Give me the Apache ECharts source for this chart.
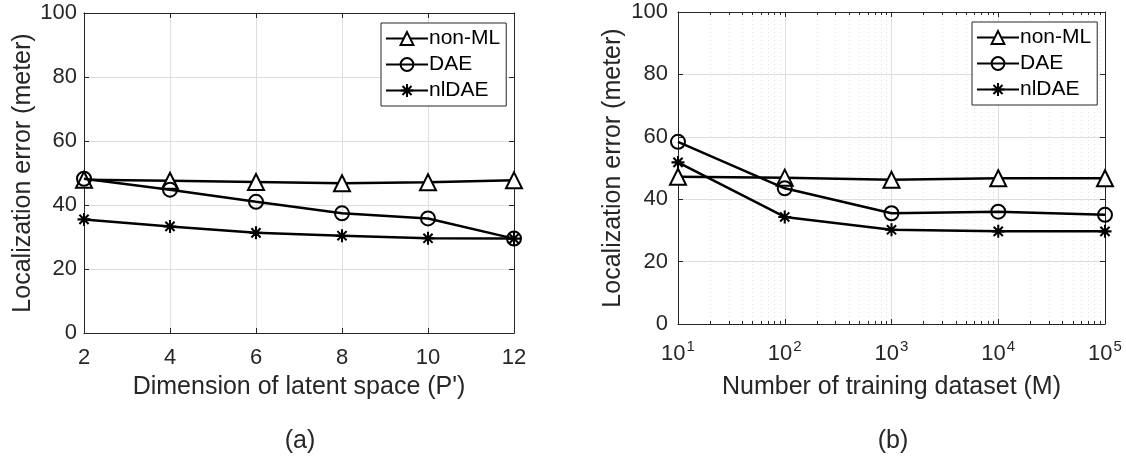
<!DOCTYPE html>
<html>
<head>
<meta charset="utf-8">
<script src="https://cdn.jsdelivr.net/npm/echarts@6/dist/echarts.min.js"></script>
<style>
html,body{margin:0;padding:0;background:#fff;}
#chart{width:1126px;height:466px;}
</style>
</head>
<body>
<div id="chart"></div>
<script>
// ---- data ----
const seriesNames = ['non-ML', 'DAE', 'nlDAE'];
// (a) dimension of latent space
const latentDim = [2, 4, 6, 8, 10, 12];
const aNonML = [47.9, 47.6, 47.2, 46.8, 47.1, 47.7];
const aDAE   = [48.2, 44.8, 41.0, 37.4, 35.8, 29.5];
const aNlDAE = [35.5, 33.3, 31.3, 30.4, 29.6, 29.5];
// (b) number of training dataset
const trainSize = [10, 100, 1000, 10000, 100000];
const bNonML = [47.2, 46.9, 46.2, 46.7, 46.7];
const bDAE   = [58.4, 43.5, 35.5, 36.0, 35.0];
const bNlDAE = [51.8, 34.3, 30.2, 29.7, 29.7];
const yTicks = [0, 20, 40, 60, 80, 100];
const panelLabels = ['(a)', '(b)'];
const xTitles = ['Dimension of latent space (P\')', 'Number of training dataset (M)'];
const yTitle = 'Localization error (meter)';

const FONT = 'Liberation Sans, Arial, Helvetica, sans-serif';
const AX = '#262626';
const GRIDC = '#dedede';
const TICKFS = 22, TITLEFS = 25, LEGFS = 21;

const star = 'path://M-5,-0.8L5,-0.8L5,0.8L-5,0.8Z M-0.8,-5L0.8,-5L0.8,5L-0.8,5Z M-2.97,-4.1L4.1,2.97L2.97,4.1L-4.1,-2.97Z M4.1,-2.97L-2.97,4.1L-4.1,2.97L2.97,-4.1Z';

function zip(xs, ys) { return xs.map((x, i) => [x, ys[i]]); }

const symbols = [
  { symbol: 'triangle', symbolSize: 16, itemStyle: { color: '#fff', borderColor: '#000', borderWidth: 2 } },
  { symbol: 'circle', symbolSize: 14, itemStyle: { color: 'rgba(255,255,255,0)', borderColor: '#000', borderWidth: 2 } },
  { symbol: star, symbolSize: 13, itemStyle: { color: '#000', borderWidth: 0 } }
];

function mkSeries(name, idx, data, gi) {
  const s = symbols[idx];
  return {
    type: 'line', name: name, xAxisIndex: gi * 2, yAxisIndex: gi * 2,
    data: data, symbol: s.symbol, symbolSize: s.symbolSize,
    showAllSymbol: true,
    lineStyle: { color: '#000', width: 2.5 },
    itemStyle: s.itemStyle,
    z: 3 + idx, animation: false
  };
}

const series = [
  mkSeries(seriesNames[0], 0, zip(latentDim, aNonML), 0),
  mkSeries(seriesNames[1], 1, zip(latentDim, aDAE), 0),
  mkSeries(seriesNames[2], 2, zip(latentDim, aNlDAE), 0),
  mkSeries(seriesNames[0], 0, zip(trainSize, bNonML), 1),
  mkSeries(seriesNames[1], 1, zip(trainSize, bDAE), 1),
  mkSeries(seriesNames[2], 2, zip(trainSize, bNlDAE), 1)
];

const tickCommon = { show: true, inside: true, length: 5, lineStyle: { color: AX, width: 1 } };
const lineCommon = { show: true, onZero: false, lineStyle: { color: AX, width: 1 } };
const labelStyle = { color: '#262626', fontFamily: FONT, fontSize: TICKFS };
const titleStyle = { color: '#262626', fontFamily: FONT, fontSize: TITLEFS };

const xAxes = [
  { gridIndex: 0, type: 'value', min: latentDim[0], max: latentDim[latentDim.length - 1], interval: 2, position: 'bottom',
    axisLine: lineCommon, axisTick: tickCommon,
    axisLabel: Object.assign({ margin: 14 }, labelStyle),
    splitLine: { show: true, lineStyle: { color: GRIDC, width: 1 } },
    name: xTitles[0], nameLocation: 'middle', nameGap: 42, nameTextStyle: titleStyle },
  { gridIndex: 0, type: 'value', min: latentDim[0], max: latentDim[latentDim.length - 1], interval: 2, position: 'top',
    axisLine: lineCommon, axisTick: tickCommon, axisLabel: { show: false }, splitLine: { show: false } },
  { gridIndex: 1, type: 'log', logBase: 10, min: trainSize[0], max: trainSize[trainSize.length - 1], position: 'bottom',
    axisLine: lineCommon, axisTick: tickCommon,
    minorTick: { show: true, splitNumber: 9, length: 3, lineStyle: { color: AX } },
    minorSplitLine: { show: true, lineStyle: { color: '#e4e4e4', type: [1, 3] } },
    axisLabel: {
      margin: 15,
      formatter: v => '{b|10}{s|' + Math.round(Math.log10(v)) + '}',
      rich: {
        b: { fontSize: TICKFS, fontFamily: FONT, color: '#262626' },
        s: { fontSize: 15, fontFamily: FONT, color: '#262626', padding: [0, 0, 15, 1] }
      }
    },
    splitLine: { show: true, lineStyle: { color: GRIDC, width: 1 } },
    name: xTitles[1], nameLocation: 'middle', nameGap: 51, nameTextStyle: titleStyle },
  { gridIndex: 1, type: 'log', logBase: 10, min: trainSize[0], max: trainSize[trainSize.length - 1], position: 'top',
    axisLine: lineCommon, axisTick: tickCommon,
    minorTick: { show: true, splitNumber: 9, length: 3, lineStyle: { color: AX } },
    axisLabel: { show: false }, splitLine: { show: false } }
];

function yAx(gi, pos, gap) {
  const main = pos === 'left';
  return {
    gridIndex: gi, type: 'value', min: yTicks[0], max: yTicks[yTicks.length - 1], interval: 20, position: pos,
    axisLine: lineCommon, axisTick: tickCommon,
    axisLabel: main ? Object.assign({ margin: gi === 0 ? 7 : 10 }, labelStyle) : { show: false },
    splitLine: { show: main, lineStyle: { color: GRIDC, width: 1 } },
    name: main ? yTitle : '', nameLocation: 'middle', nameGap: gap, nameTextStyle: titleStyle
  };
}
const yAxes = [yAx(0, 'left', 48), yAx(0, 'right', 0), yAx(1, 'left', 52), yAx(1, 'right', 0)];

function legend(left, top, w) {
  return {
    data: seriesNames, orient: 'vertical', left: left, top: top,
    width: w, padding: [5, 6, 5, 4], itemGap: 5,
    itemWidth: 42, itemHeight: 16,
    borderColor: '#262626', borderWidth: 1, backgroundColor: '#fff',
    textStyle: { fontFamily: FONT, fontSize: LEGFS, color: '#000', padding: [0, 0, 0, -4] },
    selectedMode: false
  };
}

const option = {
  backgroundColor: '#fff',
  animation: false,
  grid: [
    { left: 84, right: 1126 - 514, top: 13, bottom: 466 - 333 },
    { left: 678, right: 1126 - 1105, top: 12, bottom: 466 - 324 }
  ],
  xAxis: xAxes,
  yAxis: yAxes,
  legend: [legend(381, 23, 122), legend(972, 22, 131)],
  series: series,
  graphic: [
    { type: 'text', x: 300, y: 441, style: { text: panelLabels[0], font: TITLEFS + 'px ' + FONT, fill: '#262626', align: 'center', verticalAlign: 'middle' } },
    { type: 'text', x: 893, y: 441, style: { text: panelLabels[1], font: TITLEFS + 'px ' + FONT, fill: '#262626', align: 'center', verticalAlign: 'middle' } }
  ]
};

const chart = echarts.init(document.getElementById('chart'), null, { renderer: 'canvas' });
chart.setOption(option);
</script>
</body>
</html>
